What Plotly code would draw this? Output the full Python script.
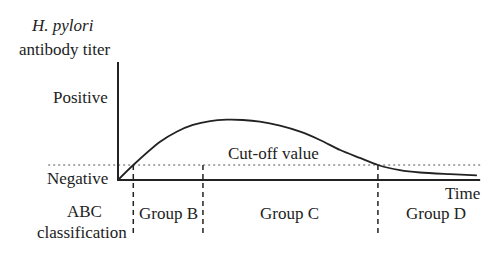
import plotly.graph_objects as go

# Conceptual curve: time (arbitrary units) vs antibody titer (arbitrary units)
time = [0, 0.425, 1.17, 1.63, 2.08, 2.56, 3.02, 3.47, 3.94, 4.5, 5.06, 5.61, 6.17, 6.72, 7.22, 7.83, 8.39, 9.22, 9.97]
titer = [0, 1.0, 2.55, 3.22, 3.67, 3.93, 4.02, 4.0, 3.89, 3.62, 3.22, 2.67, 2.0, 1.47, 1.0, 0.66, 0.50, 0.39, 0.31]

cutoff = 1.0
group_bounds = [0.425, 2.36, 7.22]
group_labels = ["Group B", "Group C", "Group D"]
group_centers = [1.39, 4.75, 8.83]

FONT = "'Liberation Serif', 'Times New Roman', Times, serif"
INK = "#222222"

fig = go.Figure()

# cut-off dotted line
fig.add_trace(go.Scatter(x=[-1.94, 10.06], y=[cutoff, cutoff], mode="lines",
                         line=dict(color="#555555", width=1.2, dash="2px,3px"),
                         hoverinfo="skip", showlegend=False))
# axes
fig.add_trace(go.Scatter(x=[0, 0, 10.06], y=[7.87, 0, 0], mode="lines",
                         line=dict(color=INK, width=2), hoverinfo="skip", showlegend=False))
# group boundaries
for b in group_bounds:
    fig.add_trace(go.Scatter(x=[b, b], y=[cutoff, -3.8], mode="lines",
                             line=dict(color=INK, width=1.5, dash="5px,4px"),
                             hoverinfo="skip", showlegend=False))
# titer curve
fig.add_trace(go.Scatter(x=time, y=titer, mode="lines",
                         line=dict(color=INK, width=1.8, shape="spline", smoothing=0.8),
                         hoverinfo="skip", showlegend=False))

def txt(x, y, s, xanchor="center", italic=False):
    fig.add_annotation(x=x, y=y, text=s, showarrow=False, xanchor=xanchor, yanchor="middle",
                       font=dict(family=FONT, size=17, color=INK,
                                 style="italic" if italic else "normal"))

txt(-1.53, 10.33, "H. pylori", italic=True)
txt(-1.50, 8.73, "antibody titer")
txt(-0.22, 5.47, "Positive", xanchor="right")
txt(-0.22, 0.13, "Negative", xanchor="right")
txt(4.33, 1.8, "Cut-off value")
txt(10.11, -0.93, "Time", xanchor="right")
txt(-0.94, -2.13, "ABC")
txt(-1.0, -3.47, "classification")
for c, lab in zip(group_centers, group_labels):
    txt(c, -2.2, lab)

fig.update_layout(
    width=500, height=256, margin=dict(l=0, r=0, t=0, b=0),
    paper_bgcolor="white", plot_bgcolor="white",
    font=dict(family=FONT),
    xaxis=dict(range=[-118/36, 382/36], visible=False, fixedrange=True),
    yaxis=dict(range=[-76/15, 180/15], visible=False, fixedrange=True),
)
fig.write_html("out.html")
